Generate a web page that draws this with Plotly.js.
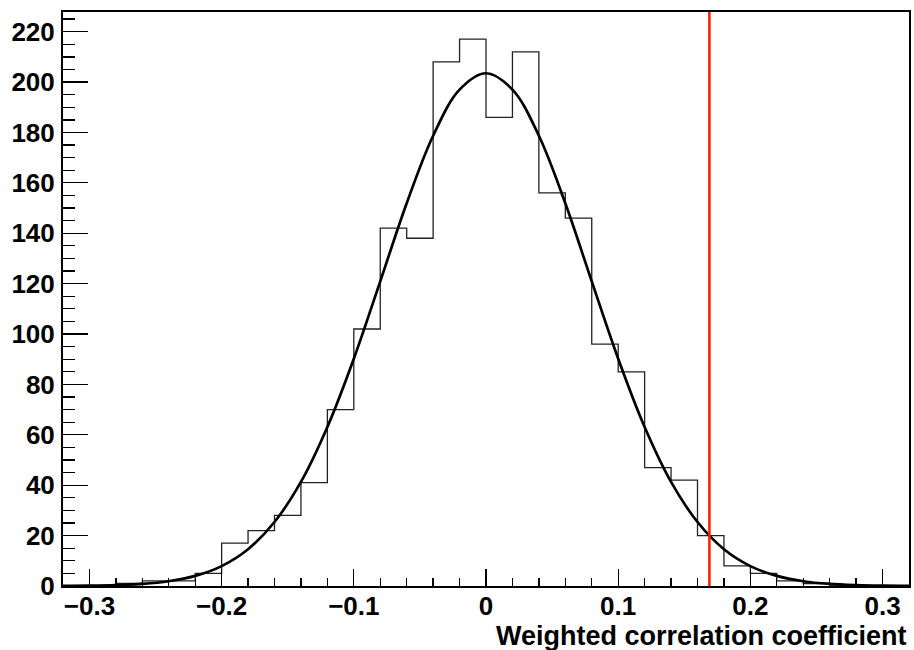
<!DOCTYPE html>
<html>
<head>
<meta charset="utf-8">
<script src="https://cdn.plot.ly/plotly-3.0.1.min.js"></script>
<style>html,body{margin:0;padding:0;background:#fff;}#chart{width:914px;height:650px;}</style>
</head>
<body>
<div id="chart"></div>
<script>
// Histogram bin edges (33 edges -> 32 bins)
const binEdges = [-0.32,-0.30,-0.28,-0.26,-0.24,-0.22,-0.20,-0.18,-0.16,-0.14,-0.12,-0.10,-0.08,-0.06,-0.04,-0.02,0.00,
                  0.02,0.04,0.06,0.08,0.10,0.12,0.14,0.16,0.18,0.20,0.22,0.24,0.26,0.28,0.30,0.32];
// Counts per bin
const binCounts = [0,0,1,2,2,5,17,22,28,41,70,102,142,138,208,217,186,212,156,146,96,85,47,42,20,8,5,2,1,0,0,0];
// Fitted curve
const curveX = [-0.32,-0.30,-0.28,-0.26,-0.24,-0.22,-0.20,-0.18,-0.16,-0.14,-0.12,-0.10,-0.08,-0.06,-0.04,-0.02,0.00,
                0.02,0.04,0.06,0.08,0.10,0.12,0.14,0.16,0.18,0.20,0.22,0.24,0.26,0.28,0.30,0.32];
const curveY = [0.05,0.13,0.35,0.83,1.9,4.0,7.9,14.6,25.4,41.3,63.1,90.2,120.9,151.9,178.7,197,203.5,
                197,178.7,151.9,120.9,90.2,63.1,41.3,25.4,14.6,7.9,4.0,1.9,0.83,0.35,0.13,0.05];
// Observed value marker
const observedValue = 0.169;
// Axis texts
const xTitle = "Weighted correlation coefficient";

const stepY = binCounts.concat([binCounts[binCounts.length - 1]]);

const font = "'Liberation Sans', Arial, Helvetica, sans-serif";

const traces = [
  {
    x: binEdges, y: stepY, type: 'scatter', mode: 'lines',
    line: {shape: 'hv', color: '#222', width: 1.3},
    hoverinfo: 'skip', showlegend: false
  },
  {
    x: curveX, y: curveY, type: 'scatter', mode: 'lines',
    line: {shape: 'spline', smoothing: 1, color: '#000', width: 2.7},
    hoverinfo: 'skip', showlegend: false
  }
];

const layout = {
  width: 914, height: 650,
  margin: {l: 63, r: 5, t: 12, b: 64, pad: 0},
  paper_bgcolor: '#fff', plot_bgcolor: '#fff',
  showlegend: false,
  font: {family: font, color: '#000', size: 26, weight: 'bold'},
  xaxis: {
    range: [-0.32, 0.32], tick0: -0.3, dtick: 0.1,
    ticks: 'inside', ticklen: 17, tickwidth: 1.3, tickcolor: '#000',
    showline: true, linecolor: '#000', linewidth: 2, mirror: true,
    showgrid: false, zeroline: false,
    tickfont: {family: font, size: 26, weight: 'bold', color: '#000'},
    minor: {dtick: 0.02, tick0: -0.3, ticks: 'inside', ticklen: 8, tickwidth: 1.3, tickcolor: '#000', showgrid: false},
    ticklabelstandoff: -4
  },
  yaxis: {
    range: [0, 227.8], tick0: 0, dtick: 20,
    ticks: 'inside', ticklen: 25, tickwidth: 1.3, tickcolor: '#000',
    showline: true, linecolor: '#000', linewidth: 2, mirror: true,
    showgrid: false, zeroline: false,
    tickfont: {family: font, size: 26, weight: 'bold', color: '#000'},
    minor: {dtick: 5, tick0: 0, ticks: 'inside', ticklen: 12, tickwidth: 1.3, tickcolor: '#000', showgrid: false},
    ticklabelstandoff: 1
  },
  shapes: [
    {type: 'line', xref: 'x', yref: 'paper', x0: observedValue, x1: observedValue, y0: 0, y1: 1,
     line: {color: '#ff2200', width: 2.6}}
  ],
  annotations: [
    {text: xTitle, xref: 'paper', yref: 'paper', x: 1, y: 0, xanchor: 'right', yanchor: 'top',
     yshift: -33, showarrow: false, font: {family: font, size: 27, weight: 'bold', color: '#000'}}
  ]
};

Plotly.newPlot('chart', traces, layout, {staticPlot: true, displayModeBar: false});
</script>
</body>
</html>
